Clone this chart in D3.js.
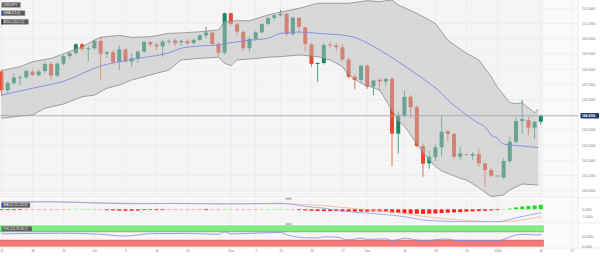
<!DOCTYPE html>
<html>
<head>
<meta charset="utf-8">
<script src="https://cdn.jsdelivr.net/npm/d3@7"></script>
<style>
  html, body { margin: 0; padding: 0; background: #fff; overflow: hidden; }
  svg { display: block; }
</style>
</head>
<body>
<script>
// USD/JPY daily, 11 Sep 2023 - 10 Jan 2024
const dates = [
  "2023-09-11","2023-09-12","2023-09-13","2023-09-14","2023-09-15","2023-09-18","2023-09-19","2023-09-20","2023-09-21","2023-09-22",
  "2023-09-25","2023-09-26","2023-09-27","2023-09-28","2023-09-29","2023-10-02","2023-10-03","2023-10-04","2023-10-05","2023-10-06",
  "2023-10-09","2023-10-10","2023-10-11","2023-10-12","2023-10-13","2023-10-16","2023-10-17","2023-10-18","2023-10-19","2023-10-20",
  "2023-10-23","2023-10-24","2023-10-25","2023-10-26","2023-10-27","2023-10-30","2023-10-31","2023-11-01","2023-11-02","2023-11-03",
  "2023-11-06","2023-11-07","2023-11-08","2023-11-09","2023-11-10","2023-11-13","2023-11-14","2023-11-15","2023-11-16","2023-11-17",
  "2023-11-20","2023-11-21","2023-11-22","2023-11-23","2023-11-24","2023-11-27","2023-11-28","2023-11-29","2023-11-30","2023-12-01",
  "2023-12-04","2023-12-05","2023-12-06","2023-12-07","2023-12-08","2023-12-11","2023-12-12","2023-12-13","2023-12-14","2023-12-15",
  "2023-12-18","2023-12-19","2023-12-20","2023-12-21","2023-12-22","2023-12-25","2023-12-26","2023-12-27","2023-12-28","2023-12-29",
  "2024-01-01","2024-01-02","2024-01-03","2024-01-04","2024-01-05","2024-01-08","2024-01-09","2024-01-10"
];
const open = [
  147.85,146.60,147.08,147.44,147.46,147.83,147.60,147.87,148.33,147.57,
  148.36,148.86,149.05,149.63,149.30,149.37,149.86,149.02,149.10,148.46,
  149.30,148.50,148.70,149.15,149.78,149.60,149.50,149.80,149.88,149.76,
  149.85,149.72,149.92,150.22,150.40,149.65,149.08,151.67,150.95,150.45,
  149.38,149.97,150.42,150.97,151.36,151.54,151.65,150.30,151.38,150.75,
  149.62,148.34,148.40,149.62,149.56,149.44,148.62,147.50,147.28,148.22,
  146.85,147.30,147.18,147.35,143.75,144.93,146.18,145.49,142.94,141.80,
  142.20,142.86,143.92,143.73,142.24,142.40,142.30,142.42,141.80,141.36,
  140.99,140.86,141.95,143.22,144.58,144.65,144.15,144.54
];
const high = [
  147.95,147.20,147.70,147.60,147.95,147.95,147.95,148.45,148.45,148.45,
  148.95,149.18,149.72,149.72,149.50,149.90,150.15,149.20,149.25,149.55,
  149.35,149.05,149.25,149.85,149.85,149.70,149.90,149.95,150.00,149.95,
  150.00,150.00,150.30,150.77,150.45,149.80,151.72,151.72,151.05,150.55,
  150.15,150.50,151.00,151.45,151.60,151.90,151.72,151.45,151.42,150.80,
  149.75,148.45,149.75,149.78,149.70,149.65,148.75,147.65,148.30,148.30,
  147.30,147.40,147.45,147.50,145.20,146.58,146.30,145.60,143.10,142.60,
  143.05,144.91,143.95,143.80,142.90,142.44,142.55,142.79,141.85,141.50,
  141.02,142.15,143.55,144.80,145.97,144.87,144.60,145.00
];
const low = [
  146.20,146.45,146.98,146.95,147.35,147.55,147.50,147.75,147.30,147.45,
  148.25,148.70,148.95,149.20,148.50,149.25,147.30,148.75,148.30,147.95,
  148.45,148.15,148.40,149.05,149.45,149.25,148.80,149.65,149.50,149.55,
  149.60,149.60,149.80,150.05,149.60,148.80,148.95,150.85,150.20,149.20,
  149.15,149.85,150.35,150.85,151.20,151.45,150.15,150.20,150.35,149.15,
  148.15,147.17,148.30,149.35,149.20,148.55,147.40,146.67,147.10,146.70,
  146.30,146.58,146.90,141.62,142.46,144.80,144.76,142.85,140.92,141.45,
  141.95,142.24,143.22,142.07,141.99,142.36,142.05,141.60,140.26,140.90,
  140.96,140.80,141.80,143.10,143.73,143.66,143.40,144.32
];
const close = [
  146.60,147.08,147.45,147.47,147.87,147.62,147.84,148.33,147.57,148.36,
  148.86,149.05,149.63,149.32,149.37,149.86,149.02,149.12,148.46,149.30,
  148.50,148.70,149.15,149.80,149.62,149.50,149.80,149.86,149.70,149.86,
  149.70,149.92,150.22,150.40,149.65,149.08,151.67,150.97,150.46,149.38,
  149.97,150.42,150.97,151.36,151.54,151.65,150.30,151.38,150.78,149.65,
  148.34,148.40,149.58,149.56,149.44,148.62,147.50,147.28,148.22,146.85,
  147.25,147.18,147.35,143.75,144.93,146.18,145.49,142.94,141.78,142.24,
  142.86,143.88,143.73,142.24,142.46,142.39,142.42,141.80,141.36,140.99,
  140.99,141.95,143.22,144.58,144.72,144.15,144.54,144.93
];

// Bollinger (20,2) edges and SMA(21) at candle positions
const bbUpperIdx = [0,3,5,8,10,13,15,16,19,21,24,27,29,32,35,36,38,40,43,45,48,51,56,59,61,63,64,67,70,72,75,77,79,80,82,83,84,86,86.6];
const bbUpper = [147.90,148.16,148.49,148.71,149.00,149.47,149.91,150.09,150.22,150.09,150.13,150.35,150.38,150.46,150.57,151.12,151.18,151.18,151.56,151.75,152.00,152.33,152.33,152.50,152.44,152.55,152.22,151.67,151.00,149.90,149.04,148.60,147.50,146.80,145.80,145.72,145.78,145.12,145.38];
const bbLowerIdx = [0,3,5,7,10,13,15,17,19,21,24,27,28,29,32,35,36,37,38,41,43,45,48,51,53,55,56,58,61,63,64,65,67,68,69,70,71,72,74,75,77,79,81,82,84,86.6];
const bbLower = [144.76,144.91,144.98,145.42,145.70,146.18,146.29,146.74,146.95,147.28,147.61,147.94,148.27,148.60,148.71,148.78,148.38,148.22,148.60,148.70,148.78,148.82,148.93,148.82,148.60,148.16,147.61,147.07,146.62,145.30,144.60,144.25,143.10,142.50,142.00,141.60,141.30,141.14,140.82,140.70,140.20,139.61,139.72,140.05,140.44,140.37];
const smaIdx = [0,5,10,16,21,27,29,32,35,37,40,43,45,48,51,56,61,64,66,67,69,71,72,74,75,77,78,79,80,81,84,86.6];
const sma = [146.29,146.74,147.20,148.20,148.64,149.08,149.37,149.52,149.59,149.74,149.90,150.03,150.35,150.44,150.35,150.18,149.26,148.49,147.94,147.65,147.07,146.41,145.97,145.31,144.98,144.43,144.21,143.66,143.45,143.07,142.94,142.84];

// MACD (12,26,9)
const macdIdx = [0,8,16,22,28,35,40,45,49,52,55,59,62,65,68,70,75,80,83,87];
const macdLine = [1.00,1.02,0.82,0.75,0.80,0.72,0.75,0.82,0.40,0.15,-0.25,-0.50,-0.72,-1.00,-1.45,-1.55,-1.68,-1.68,-1.15,-0.45];
const macdSignal = [0.98,1.00,0.90,0.80,0.78,0.76,0.75,0.75,0.65,0.50,0.25,-0.05,-0.30,-0.55,-0.95,-1.15,-1.50,-1.68,-1.55,-1.00];
const macdHist = [
  -0.08,-0.08,-0.08,-0.08,-0.04,-0.04,-0.04,-0.04,-0.04,-0.04,
  -0.04,0.06,0.06,0.06,0.06,0.06,-0.02,-0.12,-0.15,-0.18,
  -0.20,-0.20,-0.18,-0.10,-0.09,-0.08,-0.07,-0.06,-0.05,-0.05,
  -0.05,-0.06,-0.06,-0.07,-0.06,-0.04,0.04,0.05,-0.02,-0.03,
  -0.02,-0.01,0.02,0.03,0.05,0.06,0.04,-0.03,-0.08,-0.15,
  -0.20,-0.22,-0.24,-0.24,-0.25,-0.27,-0.30,-0.32,-0.30,-0.32,
  -0.30,-0.30,-0.30,-0.45,-0.50,-0.55,-0.58,-0.60,-0.62,-0.60,
  -0.58,-0.50,-0.45,-0.42,-0.38,-0.33,-0.28,-0.24,-0.20,-0.15,
  -0.10,0.04,0.10,0.25,0.38,0.45,0.52,0.60
];

// RSI (14)
const rsiIdx = [0,5,10,16,20,22,24,30,35,36,37,40,45,46,49,51,52,54,56,58,59,62,63,64,65,67,68,71,72,73,77,80,82,83,84,86,87];
const rsi = [60,62,63,58,50,55,61,62,58,70,60,62,67,56,42,41,46,45,32,40,34,37,27,33,40,31,27,35,36,30,28,28,45,55,58,55,57];

// axis ticks
const xTickIdx = [0,5,10,15,20,25,30,37,41,45,50,55,59,65,70,75,80,87,92];
const xTickText = ["11","18","25","Oct","9","16","23","Nov","7","13","20","27","Dec","11","18","25","2024","10","17"];
const priceTicks = [140,141,142,143,144,145,146,147,148,149,150,151,152];
const macdTicks = [0,-1];
const rsiTicks = [50,0];

const W = 600;
const H = 256;
const plotR = 578;
const font = "'Liberation Sans', Arial, sans-serif";
const upColor = "#168a68";
const downColor = "#ea4a30";

const mainP = { top: 0, bottom: 197 };
const macdP = { top: 199, bottom: 222.5 };
const rsiP = { top: 224.5, bottom: 247.5 };

const x = d3.scaleLinear().domain([-0.24, 93]).range([0, plotR]);
const y = d3.scaleLinear().domain([140, 152]).range([190.7, 8.3]);
const yMacd = d3.scaleLinear().domain([-1, 0]).range([216.7, 209.3]);
const yRsi = d3.scaleLinear().domain([0, 100]).range([246.7, 225.3]);
const step = x(1) - x(0);
const dataEnd = x(dates.length - 1) + step / 2;

const svg = d3.select("body").append("svg").attr("width", W).attr("height", H);

svg.append("rect").attr("width", W).attr("height", H).attr("fill", "#ffffff");

const defs = svg.append("defs");
[["clip-main", mainP], ["clip-macd", macdP], ["clip-rsi", rsiP]].forEach(([id, p]) => {
  defs.append("clipPath").attr("id", id)
    .append("rect").attr("x", 0).attr("y", p.top).attr("width", plotR).attr("height", p.bottom - p.top);
});

// panel backgrounds + grid
[mainP, macdP, rsiP].forEach((p) => {
  svg.append("rect")
    .attr("x", 0).attr("y", p.top)
    .attr("width", dataEnd).attr("height", p.bottom - p.top)
    .attr("fill", "#f5f5f6");
  svg.append("rect")
    .attr("x", dataEnd).attr("y", p.top)
    .attr("width", plotR - dataEnd).attr("height", p.bottom - p.top)
    .attr("fill", "#fafafa");
  svg.append("g")
    .selectAll("line")
    .data(xTickIdx)
    .join("line")
    .attr("x1", (d) => x(d)).attr("x2", (d) => x(d))
    .attr("y1", p.top).attr("y2", p.bottom)
    .attr("stroke", "#e6e6ea").attr("stroke-width", 0.5);
  svg.append("line")
    .attr("x1", 0).attr("x2", W).attr("y1", p.bottom + 0.5).attr("y2", p.bottom + 0.5)
    .attr("stroke", "#e2e2e2").attr("stroke-width", 0.6);
});

svg.append("g")
  .selectAll("line")
  .data(priceTicks)
  .join("line")
  .attr("x1", 0).attr("x2", plotR)
  .attr("y1", (d) => y(d)).attr("y2", (d) => y(d))
  .attr("stroke", "#e6e6ea").attr("stroke-width", 0.5);

svg.append("line")
  .attr("x1", plotR).attr("x2", plotR).attr("y1", 0).attr("y2", rsiP.bottom)
  .attr("stroke", "#e0e0e0").attr("stroke-width", 0.6);

// candles
const candleG = svg.append("g").attr("clip-path", "url(#clip-main)");
const candles = candleG.selectAll("g").data(d3.range(dates.length)).join("g");
const candleColor = (i) => (close[i] >= open[i] ? upColor : downColor);

candles.append("line")
  .attr("x1", (i) => x(i)).attr("x2", (i) => x(i))
  .attr("y1", (i) => y(high[i])).attr("y2", (i) => y(low[i]))
  .attr("stroke", candleColor).attr("stroke-width", 0.8);

candles.append("rect")
  .attr("x", (i) => x(i) - 2)
  .attr("y", (i) => y(Math.max(open[i], close[i])))
  .attr("width", 4)
  .attr("height", (i) => Math.max(0.8, Math.abs(y(open[i]) - y(close[i]))))
  .attr("fill", candleColor);

// bollinger band over candles
const upPts = bbUpperIdx.map((d, k) => [x(d), y(bbUpper[k])]);
const loPts = bbLowerIdx.map((d, k) => [x(d), y(bbLower[k])]);
const bandG = svg.append("g").attr("clip-path", "url(#clip-main)");

bandG.append("path")
  .attr("d", d3.line()(upPts.concat(loPts.slice().reverse())) + "Z")
  .attr("fill", "rgba(188,188,188,0.5)");

[upPts, loPts].forEach((pts) => {
  bandG.append("path")
    .attr("d", d3.line()(pts))
    .attr("fill", "none")
    .attr("stroke", "#8a8a8a")
    .attr("stroke-width", 0.8);
});

bandG.append("path")
  .attr("d", d3.line().curve(d3.curveMonotoneX)(smaIdx.map((d, k) => [x(d), y(sma[k])])))
  .attr("fill", "none")
  .attr("stroke", "#7f8ae0")
  .attr("stroke-width", 0.9);

// current price line
const last = close[close.length - 1];
svg.append("line")
  .attr("x1", 0).attr("x2", plotR)
  .attr("y1", y(last)).attr("y2", y(last))
  .attr("stroke", "#9aa3b6").attr("stroke-width", 0.8);

// MACD panel
const macdG = svg.append("g").attr("clip-path", "url(#clip-macd)");
macdG.selectAll("rect")
  .data(macdHist)
  .join("rect")
  .attr("x", (d, i) => x(i) - 2)
  .attr("y", (d) => (d >= 0 ? yMacd(d) : yMacd(0)))
  .attr("width", 4)
  .attr("height", (d) => Math.max(0.8, Math.abs(yMacd(d) - yMacd(0))))
  .attr("fill", (d) => {
    if (d >= 0) return d >= 0.07 ? "#1fe01f" : "#a6eea6";
    return d <= -0.07 ? "#ff1f1f" : "#f6a3a3";
  });

macdG.append("path")
  .attr("d", d3.line().curve(d3.curveMonotoneX)(macdIdx.map((d, k) => [x(d), yMacd(macdSignal[k])])))
  .attr("fill", "none").attr("stroke", "#f5b38a").attr("stroke-width", 0.8);

macdG.append("path")
  .attr("d", d3.line().curve(d3.curveMonotoneX)(macdIdx.map((d, k) => [x(d), yMacd(macdLine[k])])))
  .attr("fill", "none").attr("stroke", "#8e9cf2").attr("stroke-width", 0.8);

// RSI panel
const rsiG = svg.append("g").attr("clip-path", "url(#clip-rsi)");
rsiG.append("rect")
  .attr("x", 0).attr("y", yRsi(100))
  .attr("width", dataEnd).attr("height", yRsi(70) - yRsi(100))
  .attr("fill", "#80ee80");
rsiG.append("line")
  .attr("x1", 0).attr("x2", dataEnd).attr("y1", yRsi(70)).attr("y2", yRsi(70))
  .attr("stroke", "#52c452").attr("stroke-width", 0.8);
rsiG.append("rect")
  .attr("x", 0).attr("y", yRsi(30))
  .attr("width", dataEnd).attr("height", yRsi(0) - yRsi(30))
  .attr("fill", "#f47878");
rsiG.append("line")
  .attr("x1", 0).attr("x2", dataEnd).attr("y1", yRsi(30)).attr("y2", yRsi(30))
  .attr("stroke", "#c85a5a").attr("stroke-width", 0.8);

rsiG.append("path")
  .attr("d", d3.line().curve(d3.curveMonotoneX)(rsiIdx.map((d, k) => [x(d), yRsi(rsi[k])])))
  .attr("fill", "none").attr("stroke", "#7e8ae6").attr("stroke-width", 0.8);

// panel handles
[macdP.top, rsiP.top].forEach((t) => {
  svg.append("rect")
    .attr("x", 285.5).attr("y", t - 1.3)
    .attr("width", 6).attr("height", 2)
    .attr("fill", "#b8b8b8");
});

// axes
const styleAxis = (g) => {
  g.attr("font-family", font).attr("font-size", 3.2).attr("color", "#7a7a7a");
  g.select(".domain").remove();
};

svg.append("g")
  .attr("transform", `translate(${plotR},0)`)
  .call(d3.axisRight(y).tickValues(priceTicks).tickFormat((d) => d.toFixed(4)).tickSize(0).tickPadding(4))
  .call(styleAxis);

svg.append("g")
  .attr("transform", `translate(${plotR},0)`)
  .call(d3.axisRight(yMacd).tickValues(macdTicks).tickFormat((d) => d.toFixed(4)).tickSize(0).tickPadding(4))
  .call(styleAxis);

svg.append("g")
  .attr("transform", `translate(${plotR},0)`)
  .call(d3.axisRight(yRsi).tickValues(rsiTicks).tickFormat((d) => d.toFixed(4)).tickSize(0).tickPadding(4))
  .call(styleAxis);

svg.append("g")
  .attr("transform", `translate(0,${rsiP.bottom})`)
  .call(d3.axisBottom(x).tickValues(xTickIdx).tickFormat((d, i) => xTickText[i]).tickSize(0).tickPadding(2.2))
  .call(styleAxis);

// current price tag
svg.append("rect")
  .attr("x", 580.5).attr("y", y(last) - 2.8)
  .attr("width", 18.5).attr("height", 5.6).attr("rx", 0.8)
  .attr("fill", "#1f3a6c");
svg.append("text")
  .attr("x", 582).attr("y", y(last) + 1.1)
  .attr("font-family", font).attr("font-size", 3.2).attr("font-weight", "bold")
  .attr("fill", "#ffffff")
  .text(last.toFixed(4));

// legend boxes
const legends = [
  { label: "USD/JPY", y: 2.3, w: 19, mark: null },
  { label: "SMA (21,0)", y: 10.6, w: 23.5, mark: "#2040f0" },
  { label: "BOLL (20,2,2)", y: 19.2, w: 27, mark: "#111111" },
  { label: "MACD (12,26,9)", y: 202.6, w: 28.5, mark: "#2040f0" },
  { label: "RSI (14,70,30,7)", y: 226.3, w: 30.5, mark: "#10c010" }
];

const legendG = svg.append("g").selectAll("g").data(legends).join("g");
legendG.append("rect")
  .attr("x", 1.6).attr("y", (d) => d.y)
  .attr("width", (d) => d.w).attr("height", 5.2).attr("rx", 0.6)
  .attr("fill", "#5b5b5b").attr("stroke", "#c8c8c8").attr("stroke-width", 0.4);
legendG.filter((d) => d.mark)
  .append("rect")
  .attr("x", 1.6).attr("y", (d) => d.y)
  .attr("width", 1.1).attr("height", 5.2)
  .attr("fill", (d) => d.mark);
legendG.append("text")
  .attr("x", 3.6).attr("y", (d) => d.y + 3.7)
  .attr("font-family", font).attr("font-size", 3.3)
  .attr("fill", "#f0f0f0")
  .text((d) => d.label);
</script>
</body>
</html>
